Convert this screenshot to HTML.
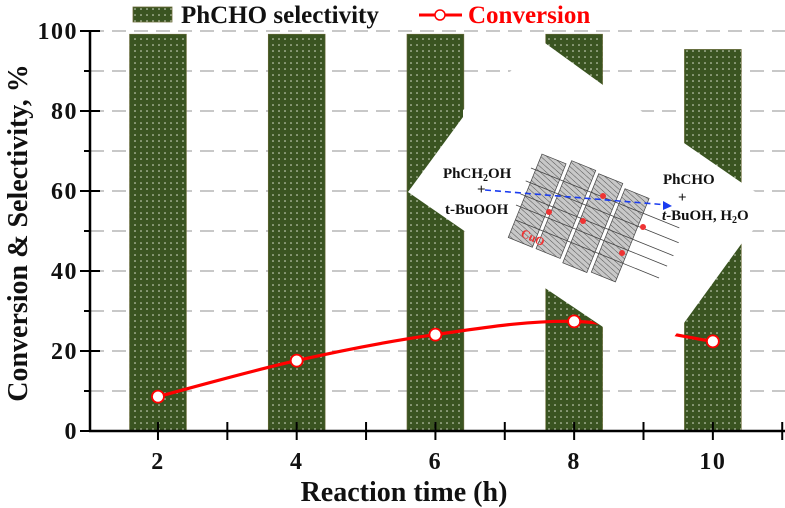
<!DOCTYPE html>
<html><head><meta charset="utf-8"><style>
html,body{margin:0;padding:0;background:#fff}
svg{display:block}
text{font-family:"Liberation Serif",serif;font-weight:bold}
</style></head><body>
<svg id="chart" width="785" height="508" viewBox="0 0 785 508" xmlns="http://www.w3.org/2000/svg">
<defs>
<pattern id="dots" width="6" height="6" patternUnits="userSpaceOnUse">
<rect width="6" height="6" fill="#3a5421"/>
<circle cx="3" cy="3" r="0.75" fill="#e8eede"/>
</pattern>
<pattern id="hatch" width="4" height="4" patternUnits="userSpaceOnUse" patternTransform="rotate(20)">
<rect width="4" height="4" fill="#c8c8c8"/>
<line x1="0" y1="0" x2="4" y2="0" stroke="#444" stroke-width="0.9"/>
</pattern>
</defs>
<g id="grid"></g>
<g id="bars"></g>
<polygon fill="#fff"
 points="408,192 463,117 463,110 545,43 603,85 640,110 684,143 742,183 775,205 742,243 684,323 674,337 640,340 603,327 545,288 463,230"/>
<g>
<g transform="translate(590,222) rotate(22)">
<rect x="-70" y="-45" width="26" height="90" fill="url(#hatch)" stroke="#444" stroke-width="0.7"/>
<rect x="-40" y="-50" width="26" height="95" fill="url(#hatch)" stroke="#444" stroke-width="0.7"/>
<rect x="-10" y="-48" width="26" height="96" fill="url(#hatch)" stroke="#444" stroke-width="0.7"/>
<rect x="20" y="-44" width="26" height="90" fill="url(#hatch)" stroke="#444" stroke-width="0.7"/>
<line x1="-75" y1="-28" x2="85" y2="-28" stroke="#444" stroke-width="0.8"/>
<line x1="-75" y1="-14" x2="90" y2="-14" stroke="#444" stroke-width="0.8"/>
<line x1="-75" y1="0" x2="90" y2="0" stroke="#444" stroke-width="0.8"/>
<line x1="-75" y1="12" x2="88" y2="12" stroke="#444" stroke-width="0.8"/>
<line x1="-70" y1="26" x2="85" y2="26" stroke="#444" stroke-width="0.8"/>
</g>
<circle cx="549" cy="212" r="3" fill="#e33"/>
<circle cx="583" cy="221" r="3" fill="#e33"/>
<circle cx="603" cy="196" r="3" fill="#e33"/>
<circle cx="643" cy="227" r="3" fill="#e33"/>
<circle cx="622" cy="253" r="3" fill="#e33"/>
<line x1="485" y1="190" x2="668" y2="205" stroke="#1a3cf0" stroke-width="1.6" stroke-dasharray="6,4"/>
<polygon points="672,206 663,201 663,210" fill="#1a3cf0"/>
<text x="443" y="178" font-size="15" fill="#111">PhCH<tspan font-size="10" dy="3">2</tspan><tspan dy="-3">OH</tspan></text>
<text x="477" y="194" font-size="15" fill="#111">+</text>
<text x="445" y="214" font-size="15" fill="#111">t-BuOOH</text>
<text x="520" y="236" font-size="12" fill="#e33" transform="rotate(25 520 236)">CuO</text>
<text x="663" y="184" font-size="15" fill="#111">PhCHO</text>
<text x="678" y="202" font-size="15" fill="#111">+</text>
<text x="662" y="220" font-size="15" fill="#111"><tspan font-style="italic">t</tspan>-BuOH, H<tspan font-size="10" dy="3">2</tspan><tspan dy="-3">O</tspan></text>
</g>
<g id="line"></g>
<g id="axes"></g>
<g>
<rect x="133" y="7" width="39" height="15" fill="url(#dots)" stroke="#6b6b3a" stroke-width="0.8"/>
<text x="181" y="23" font-size="25" fill="#111">PhCHO selectivity</text>
<line x1="419" y1="15" x2="462" y2="15" stroke="#f00" stroke-width="3"/>
<circle cx="440" cy="15" r="5" fill="#fff" stroke="#f00" stroke-width="1.5"/>
<text x="468" y="23" font-size="25" fill="#f00">Conversion</text>
</g>
<text x="404" y="501" font-size="28" text-anchor="middle" fill="#111">Reaction time (h)</text>
<text x="0" y="0" font-size="28" text-anchor="middle" fill="#111" transform="translate(27,233) rotate(-90)">Conversion &amp; Selectivity, %</text>
</svg>
<script>
const times = [2, 4, 6, 8, 10];
const selectivity = [99.2, 99.2, 99.2, 99.2, 95.4];
const conversion = [8.6, 17.6, 24.1, 27.4, 22.4];
const xTickLabels = ["2", "4", "6", "8", "10"];
const yTickLabels = ["0", "20", "40", "60", "80", "100"];

const NS = "http://www.w3.org/2000/svg";
const X0 = 90, X1 = 785, XMIN = 1.02, XMAX = 11.04;
const Y0 = 431, Y1 = 31, YMIN = 0, YMAX = 100;
const xs = v => X0 + (v - XMIN) / (XMAX - XMIN) * (X1 - X0);
const ys = v => Y0 - (v - YMIN) / (YMAX - YMIN) * (Y0 - Y1);
function mk(tag, attrs, parent) {
  const e = document.createElementNS(NS, tag);
  for (const k in attrs) e.setAttribute(k, attrs[k]);
  parent.appendChild(e);
  return e;
}
const grid = document.getElementById('grid');
for (let v = 10; v <= 100; v += 10) {
  const g = mk('line', {x1: X0, x2: X1, y1: ys(v), y2: ys(v), stroke: '#a8a8a8', 'stroke-width': 1.2, 'stroke-dasharray': '14,8'}, grid);
  
  
}
const bars = document.getElementById('bars');
const bw = 0.82 * (X1 - X0) / (XMAX - XMIN);
times.forEach((t, i) => {
  const r = mk('rect', {x: xs(t) - bw / 2, y: ys(selectivity[i]), width: bw, height: ys(0) - ys(selectivity[i]), fill: 'url(#dots)', stroke: '#6b6b3a', 'stroke-width': 0.6}, bars);
  
  
});
const lineG = document.getElementById('line');
const pts = times.map((t, i) => [xs(t), ys(conversion[i])]);
let d = 'M' + pts[0][0] + ',' + pts[0][1];
for (let i = 0; i < pts.length - 1; i++) {
  const p0 = pts[i - 1] || pts[i], p1 = pts[i], p2 = pts[i + 1], p3 = pts[i + 2] || p2;
  const c1 = [p1[0] + (p2[0] - p0[0]) / 6, p1[1] + (p2[1] - p0[1]) / 6];
  const c2 = [p2[0] - (p3[0] - p1[0]) / 6, p2[1] - (p3[1] - p1[1]) / 6];
  d += ' C' + c1 + ' ' + c2 + ' ' + p2;
}
const clip = mk('clipPath', {id: 'lineclip'}, document.querySelector('defs'));
mk('polygon', {points: '0,0 785,0 785,508 0,508 0,0 603,327 674,337 684,323 603,320'}, clip);
const path = mk('path', {d: d, fill: 'none', stroke: '#f00', 'stroke-width': 3.2, 'clip-path': 'url(#lineclip)'}, lineG);


pts.forEach((p, i) => {
  const c = mk('circle', {cx: p[0], cy: p[1], r: 6, fill: '#fff', stroke: '#f00', 'stroke-width': 1.8}, lineG);
  
  
});
const axes = document.getElementById('axes');
mk('line', {x1: X0, x2: X0, y1: Y1, y2: Y0 + 1, stroke: '#000', 'stroke-width': 2.5}, axes);
mk('line', {x1: X0 - 1, x2: X1, y1: Y0, y2: Y0, stroke: '#000', 'stroke-width': 2.5}, axes);
for (let v = 0; v <= 100; v += 10) {
  const major = v % 20 === 0;
  mk('line', {x1: major ? X0 - 10 : X0 - 6, x2: major ? X0 + 10 : X0, y1: ys(v), y2: ys(v), stroke: '#000', 'stroke-width': 2}, axes);
}
yTickLabels.forEach(l => {
  const t = mk('text', {x: X0 - 12, y: ys(+l) + 8, 'font-size': 24, 'letter-spacing': 1.5, 'text-anchor': 'end', fill: '#111'}, axes);
  t.textContent = l;
  
  
});
for (let v = 2; v <= 11; v++) {
  mk('line', {x1: xs(v), x2: xs(v), y1: Y0 - 9, y2: Y0 + 9, stroke: '#000', 'stroke-width': 2}, axes);
}
xTickLabels.forEach(l => {
  const t = mk('text', {x: xs(+l), y: Y0 + 38, 'font-size': 24, 'letter-spacing': 1.5, 'text-anchor': 'middle', fill: '#111'}, axes);
  t.textContent = l;
  
  
});
</script>
</body></html>
